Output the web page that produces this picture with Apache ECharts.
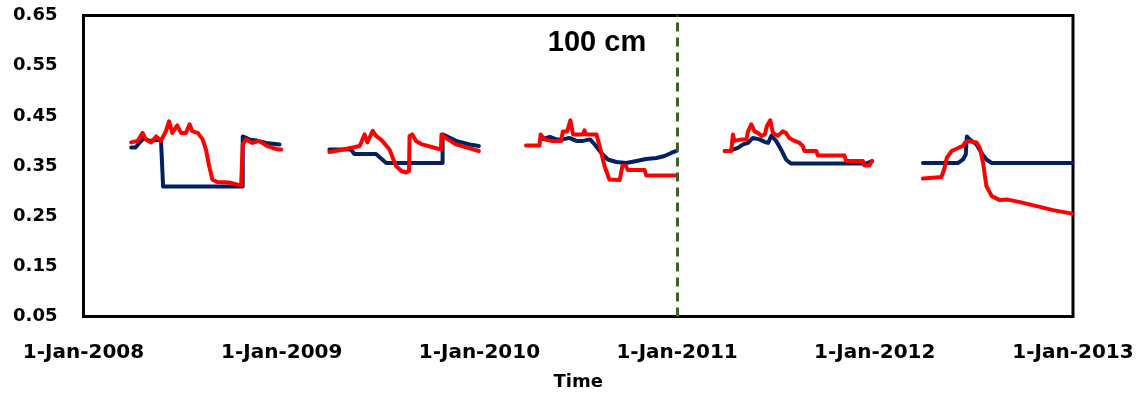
<!DOCTYPE html>
<html>
<head>
<meta charset="utf-8">
<script src="https://cdn.jsdelivr.net/npm/echarts@6/dist/echarts.min.js"></script>
<style>html,body{margin:0;padding:0;background:#fff;}#c{width:1141px;height:400px;}</style>
</head>
<body>
<div id="c"></div>
<script>
// ---- data (date, volumetric water content) ----
const yearTicks = ['2008-01-01','2009-01-01','2010-01-01','2011-01-01','2012-01-01','2013-01-01'];
const yTicks = [0.05, 0.15, 0.25, 0.35, 0.45, 0.55, 0.65];
const markerDate = '2011-01-01';
const markerText = '100 cm';

const blue2008 = [['2008-03-29',0.387],['2008-04-06',0.387],['2008-04-13',0.396],['2008-04-22',0.406],['2008-05-01',0.400],['2008-05-23',0.403],['2008-05-27',0.309],['2008-10-21',0.309],['2008-10-21',0.409],['2008-11-02',0.403],['2008-11-15',0.401],['2008-12-03',0.396],['2008-12-28',0.393]];
const red2008 = [['2008-03-29',0.397],['2008-04-10',0.400],['2008-04-19',0.416],['2008-04-25',0.403],['2008-05-05',0.397],['2008-05-14',0.409],['2008-05-23',0.400],['2008-06-01',0.419],['2008-06-07',0.439],['2008-06-13',0.416],['2008-06-22',0.431],['2008-06-29',0.416],['2008-07-08',0.416],['2008-07-15',0.433],['2008-07-20',0.419],['2008-07-30',0.416],['2008-08-08',0.403],['2008-08-14',0.383],['2008-08-20',0.350],['2008-08-26',0.323],['2008-09-04',0.318],['2008-09-26',0.317],['2008-10-18',0.311],['2008-10-21',0.393],['2008-10-27',0.403],['2008-11-08',0.396],['2008-11-20',0.400],['2008-12-03',0.391],['2008-12-15',0.386],['2008-12-26',0.383],['2008-12-31',0.383]];

const blue2009 = [['2009-03-30',0.383],['2009-05-09',0.383],['2009-05-15',0.374],['2009-06-24',0.374],['2009-07-13',0.356],['2009-10-25',0.356],['2009-10-25',0.413],['2009-11-19',0.400],['2009-12-14',0.393],['2009-12-31',0.390]];
const red2009 = [['2009-03-30',0.378],['2009-04-25',0.383],['2009-05-25',0.390],['2009-06-03',0.413],['2009-06-08',0.397],['2009-06-18',0.420],['2009-06-24',0.410],['2009-07-04',0.402],['2009-07-19',0.383],['2009-07-31',0.350],['2009-08-10',0.340],['2009-08-19',0.337],['2009-08-24',0.340],['2009-08-25',0.410],['2009-08-30',0.413],['2009-09-06',0.400],['2009-09-17',0.393],['2009-10-22',0.383],['2009-10-23',0.413],['2009-11-01',0.405],['2009-11-19',0.393],['2009-12-14',0.385],['2009-12-31',0.380]];

const blue2010 = [['2010-04-28',0.404],['2010-05-11',0.408],['2010-05-23',0.403],['2010-06-04',0.403],['2010-06-16',0.406],['2010-06-29',0.400],['2010-07-11',0.400],['2010-07-24',0.403],['2010-08-02',0.393],['2010-08-14',0.376],['2010-08-26',0.363],['2010-09-11',0.358],['2010-09-29',0.356],['2010-10-18',0.360],['2010-11-05',0.364],['2010-11-24',0.366],['2010-12-09',0.370],['2010-12-21',0.376],['2010-12-31',0.380]];
const red2010 = [['2010-03-28',0.391],['2010-04-22',0.391],['2010-04-24',0.413],['2010-05-01',0.403],['2010-05-14',0.400],['2010-06-01',0.400],['2010-06-04',0.419],['2010-06-12',0.419],['2010-06-18',0.441],['2010-06-23',0.413],['2010-07-11',0.413],['2010-07-14',0.421],['2010-07-17',0.413],['2010-08-05',0.413],['2010-08-11',0.390],['2010-08-20',0.350],['2010-08-29',0.323],['2010-09-17',0.322],['2010-09-22',0.350],['2010-09-28',0.351],['2010-10-02',0.342],['2010-11-02',0.342],['2010-11-05',0.331],['2010-12-31',0.331]];

const blue2011 = [['2011-03-30',0.380],['2011-04-08',0.380],['2011-04-23',0.386],['2011-05-03',0.393],['2011-05-12',0.396],['2011-05-21',0.406],['2011-06-02',0.403],['2011-06-14',0.397],['2011-06-18',0.396],['2011-06-24',0.410],['2011-07-03',0.400],['2011-07-12',0.383],['2011-07-21',0.363],['2011-07-30',0.355],['2011-12-16',0.355],['2011-12-27',0.360]];
const red2011 = [['2011-03-30',0.380],['2011-04-11',0.380],['2011-04-14',0.413],['2011-04-17',0.400],['2011-04-30',0.403],['2011-05-09',0.403],['2011-05-12',0.419],['2011-05-18',0.433],['2011-05-24',0.419],['2011-05-30',0.416],['2011-06-06',0.410],['2011-06-12',0.413],['2011-06-16',0.430],['2011-06-22',0.441],['2011-06-27',0.416],['2011-07-06',0.410],['2011-07-15',0.419],['2011-07-21',0.416],['2011-07-27',0.406],['2011-08-06',0.400],['2011-08-15',0.396],['2011-08-21',0.390],['2011-08-24',0.380],['2011-09-15',0.380],['2011-09-18',0.371],['2011-11-06',0.371],['2011-11-09',0.360],['2011-12-10',0.360],['2011-12-13',0.351],['2011-12-22',0.351],['2011-12-27',0.360]];

const blue2012 = [['2012-03-30',0.356],['2012-06-03',0.356],['2012-06-12',0.363],['2012-06-17',0.373],['2012-06-19',0.409],['2012-06-24',0.403],['2012-07-07',0.393],['2012-07-16',0.376],['2012-07-25',0.363],['2012-08-04',0.356],['2012-12-31',0.356]];
const red2012 = [['2012-03-30',0.325],['2012-04-12',0.326],['2012-05-03',0.328],['2012-05-08',0.343],['2012-05-13',0.366],['2012-05-22',0.380],['2012-06-03',0.386],['2012-06-12',0.390],['2012-06-15',0.396],['2012-06-21',0.400],['2012-07-07',0.397],['2012-07-13',0.386],['2012-07-19',0.356],['2012-07-25',0.310],['2012-08-04',0.290],['2012-08-19',0.282],['2012-09-03',0.283],['2012-09-25',0.278],['2012-10-26',0.270],['2012-11-25',0.262],['2012-12-30',0.255]];

const blueSegments = [blue2008, blue2009, blue2010, blue2011, blue2012];
const redSegments = [red2008, red2009, red2010, red2011, red2012];

// ---- chart ----
const ms = d => Date.parse(d + 'T00:00:00Z');
const toPts = seg => seg.map(p => [ms(p[0]), p[1]]);
const MON = ['Jan','Feb','Mar','Apr','May','Jun','Jul','Aug','Sep','Oct','Nov','Dec'];
const fmtDate = v => { const d = new Date(v); return d.getUTCDate() + '-' + MON[d.getUTCMonth()] + '-' + d.getUTCFullYear(); };

const BLUE = '#002060', RED = '#ff0000';
function lineSeries(seg, color) {
  return {
    type: 'line', data: toPts(seg), showSymbol: false, symbol: 'none',
    lineStyle: { color: color, width: 4, join: 'round', cap: 'round' },
    itemStyle: { color: color }, z: color === RED ? 3 : 2, silent: true
  };
}
const series = [];
blueSegments.forEach(s => series.push(lineSeries(s, BLUE)));
redSegments.forEach(s => series.push(lineSeries(s, RED)));
series[0].markLine = {
  silent: true, symbol: 'none', label: { show: false },
  lineStyle: { color: '#3b6229', width: 3, type: [9, 6] },
  data: [{ xAxis: ms(markerDate) }]
};

const chart = echarts.init(document.getElementById('c'), null, { renderer: 'canvas' });
chart.setOption({
  animation: false,
  backgroundColor: '#ffffff',
  grid: { left: 83.5, right: 68, top: 15.5, bottom: 83.5, show: true, borderColor: '#000', borderWidth: 3, containLabel: false },
  xAxis: {
    type: 'value', min: ms(yearTicks[0]), max: ms(yearTicks[yearTicks.length - 1]),
    name: 'Time', nameLocation: 'middle', nameGap: 57,
    nameTextStyle: { fontFamily: 'DejaVu Sans', fontWeight: 'bold', fontSize: 18, color: '#000' },
    axisLine: { show: false }, axisTick: { show: false }, splitLine: { show: false },
    axisLabel: {
      customValues: yearTicks.map(ms), formatter: v => fmtDate(v), margin: 26,
      fontFamily: 'DejaVu Sans', fontWeight: 'bold', fontSize: 20, color: '#000'
    }
  },
  yAxis: {
    type: 'value', min: yTicks[0], max: yTicks[yTicks.length - 1],
    axisLine: { show: false }, axisTick: { show: false }, splitLine: { show: false },
    axisLabel: {
      customValues: yTicks, formatter: v => v.toFixed(2), margin: 26,
      fontFamily: 'DejaVu Sans', fontWeight: 'bold', fontSize: 18, color: '#000'
    }
  },
  graphic: [{
    type: 'text', x: 597, y: 43, z: 10,
    style: { text: markerText, fontFamily: 'Liberation Sans', fontWeight: 'bold', fontSize: 29, fill: '#000', align: 'center', verticalAlign: 'middle' }
  }],
  series: series
});
</script>
</body>
</html>
